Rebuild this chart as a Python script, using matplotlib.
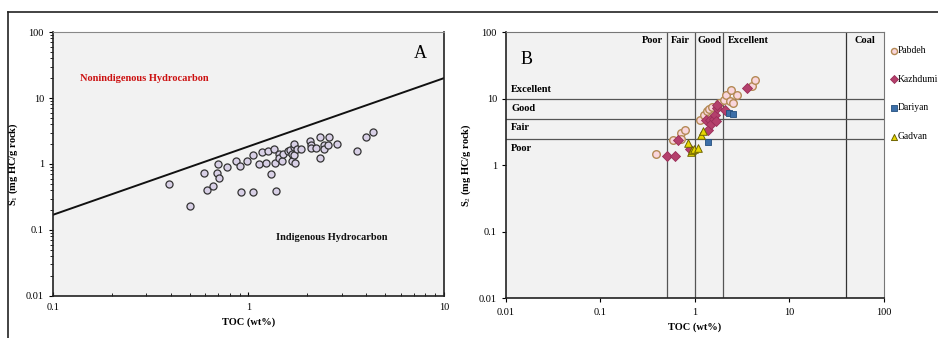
import matplotlib
matplotlib.use("Agg")
import matplotlib.pyplot as plt
from matplotlib.lines import Line2D
from matplotlib.ticker import LogLocator, NullFormatter, FixedLocator, FixedFormatter

plt.rcParams['font.family'] = ['Liberation Serif', 'DejaVu Serif']
plt.rcParams['mathtext.fontset'] = 'custom'
plt.rcParams['mathtext.rm'] = 'Liberation Serif'
plt.rcParams['mathtext.bf'] = 'Liberation Serif:bold'

# panel A: S1 vs TOC
toc_a = [0.39, 0.50, 0.59, 0.61, 0.66, 0.69, 0.70, 0.71, 0.78, 0.86, 0.91, 0.92, 0.98,
         1.05, 1.06, 1.13, 1.17, 1.23, 1.26, 1.31, 1.35, 1.37, 1.38, 1.43, 1.44, 1.49,
         1.50, 1.59, 1.64, 1.66, 1.67, 1.70, 1.71, 1.71, 1.72, 1.77, 1.86, 2.06, 2.08,
         2.08, 2.22, 2.31, 2.33, 2.42, 2.44, 2.55, 2.58, 2.83, 3.59, 3.98, 4.35]
s1_a = [0.50, 0.23, 0.74, 0.41, 0.46, 0.73, 1.00, 0.61, 0.91, 1.10, 0.93, 0.37, 1.11,
        0.37, 1.35, 1.00, 1.52, 1.03, 1.55, 0.71, 1.71, 1.05, 0.39, 1.43, 1.23, 1.11,
        1.42, 1.55, 1.65, 1.10, 1.40, 1.81, 1.98, 1.35, 1.05, 1.69, 1.67, 2.23, 1.96,
        1.75, 1.75, 1.23, 2.59, 1.96, 1.69, 1.92, 2.56, 2.00, 1.55, 2.56, 3.05]
line_toc = [0.1, 10]
line_s1 = [0.17, 20]

# panel B: S2 vs TOC by formation
pab_toc = [0.39, 0.58, 0.71, 0.71, 0.78, 1.13, 1.24, 1.35, 1.41, 1.52, 1.79, 2.02, 2.14,
           2.32, 2.42, 2.54, 2.80, 3.97, 4.30]
pab_s2 = [1.48, 2.40, 3.05, 2.45, 3.35, 4.73, 5.70, 6.46, 7.00, 7.50, 8.60, 9.40, 11.1,
          9.20, 13.5, 8.60, 11.4, 15.3, 19.3]
kaz_toc = [0.50, 0.61, 0.66, 0.885, 1.30, 1.37, 1.45, 1.49, 1.58, 1.63, 1.65, 1.70, 1.70,
           2.06, 3.57]
kaz_s2 = [1.36, 1.38, 2.37, 1.76, 4.73, 3.35, 4.73, 4.20, 4.95, 5.60, 4.60, 7.10, 8.10,
          6.70, 14.5]
dar_toc = [2.29, 2.54, 1.36]
dar_s2 = [6.1, 5.9, 2.21]
gad_toc = [0.84, 0.91, 0.94, 0.98, 1.07, 1.17, 1.23]
gad_s2 = [2.16, 1.57, 1.70, 1.76, 1.80, 2.85, 3.20]

toc_class = [0.5, 1, 2]
coal_toc = 40
s2_class = [2.5, 5, 10]

fig = plt.figure(figsize=(9.38, 3.38), dpi=100)
bg = '#f2f2f2'

# outer frame
fig.add_artist(Line2D([0.0085, 1.0], [0.9645, 0.9645], color='#222222', lw=1.2))
fig.add_artist(Line2D([0.0085, 0.0085], [0.0, 0.9645], color='#222222', lw=1.2))

# ---- A ----
axA = fig.add_axes([0.0565, 0.1243, 0.4168, 0.781])
axA.set_facecolor(bg)
axA.set_xscale('log')
axA.set_yscale('log')
axA.set_xlim(0.1, 10)
axA.set_ylim(0.01, 100)
axA.plot(line_toc, line_s1, color='#111111', lw=1.4)
axA.scatter(toc_a, s1_a, s=26, facecolor='#d8d0e6', edgecolor='#333333', lw=0.9, zorder=3)
axA.text(0.137, 19.9, 'Nonindigenous Hydrocarbon', color='#cc1111', fontsize=7.5,
         fontweight='bold', va='center')
axA.text(1.38, 0.0766, 'Indigenous Hydrocarbon', color='#111111', fontsize=7.5,
         fontweight='bold', va='center')
axA.text(7.54, 48, 'A', fontsize=13, ha='center', va='center')
axA.set_xlabel('TOC (wt%)', fontsize=7.5, fontweight='bold', labelpad=4)
axA.set_ylabel(r'S$_1$ (mg HC/g rock)', fontsize=7.5, fontweight='bold', labelpad=4)
axA.set_xticks([0.1, 1, 10])
axA.set_xticklabels(['0.1', '1', '10'])
axA.set_yticks([0.01, 0.1, 1, 10, 100])
axA.set_yticklabels(['0.01', '0.1', '1', '10', '100'])
axA.xaxis.set_minor_locator(LogLocator(subs=range(2, 10)))
axA.yaxis.set_minor_locator(LogLocator(subs=range(2, 10)))
axA.xaxis.set_minor_formatter(NullFormatter())
axA.yaxis.set_minor_formatter(NullFormatter())
axA.tick_params(axis='x', which='both', direction='in', labelsize=7.5, pad=5)
axA.tick_params(axis='y', which='both', direction='out', labelsize=7.5)
axA.tick_params(which='major', length=3, width=0.8)
axA.tick_params(which='minor', length=2, width=0.6)
for side in ['left', 'bottom', 'right']:
    axA.spines[side].set_color('#222222')
    axA.spines[side].set_linewidth(1.2)
axA.spines['top'].set_color('#888888')

# ---- B ----
axB = fig.add_axes([0.5394, 0.1183, 0.403, 0.787])
axB.set_facecolor(bg)
axB.set_xscale('log')
axB.set_yscale('log')
axB.set_xlim(0.01, 100)
axB.set_ylim(0.01, 100)
for v in toc_class:
    axB.axvline(v, color='#555555', lw=0.9, zorder=1)
axB.axvline(coal_toc, color='#333333', lw=0.9, zorder=1)
for h in s2_class:
    axB.axhline(h, color='#555555', lw=0.9, zorder=1)

axB.scatter(pab_toc, pab_s2, s=30, facecolor='#f9d6dc', edgecolor='#b48a55', lw=1.0,
            marker='o', zorder=3, label='Pabdeh')
axB.scatter(kaz_toc, kaz_s2, s=26, facecolor='#b4406c', edgecolor='#9a2e58', lw=0.6,
            marker='D', zorder=4, label='Kazhdumi')
axB.scatter(dar_toc, dar_s2, s=24, facecolor='#3d6fa8', edgecolor='#24507f', lw=0.6,
            marker='s', zorder=4, label='Dariyan')
axB.scatter(gad_toc, gad_s2, s=30, facecolor='#e8d800', edgecolor='#6e6400', lw=0.7,
            marker='^', zorder=4, label='Gadvan')

lab_y = 75
axB.text(0.46, lab_y, 'Poor', fontsize=7.5, fontweight='bold', ha='right', va='center')
axB.text(0.707, lab_y, 'Fair', fontsize=7.5, fontweight='bold', ha='center', va='center')
axB.text(1.414, lab_y, 'Good', fontsize=7.5, fontweight='bold', ha='center', va='center')
axB.text(2.25, lab_y, 'Excellent', fontsize=7.5, fontweight='bold', ha='left', va='center')
axB.text(63, lab_y, 'Coal', fontsize=7.5, fontweight='bold', ha='center', va='center')
axB.text(0.0114, 13.5, 'Excellent', fontsize=7.5, fontweight='bold', va='center')
axB.text(0.0114, 7.1, 'Good', fontsize=7.5, fontweight='bold', va='center')
axB.text(0.0114, 3.65, 'Fair', fontsize=7.5, fontweight='bold', va='center')
axB.text(0.0114, 1.75, 'Poor', fontsize=7.5, fontweight='bold', va='center')
axB.text(0.0166, 39, 'B', fontsize=13, ha='center', va='center')

axB.set_xlabel('TOC (wt%)', fontsize=7.5, fontweight='bold', labelpad=4)
axB.set_ylabel(r'S$_2$ (mg HC/g rock)', fontsize=7.5, fontweight='bold', labelpad=4)
ticks = [0.01, 0.1, 1, 10, 100]
tick_lbl = ['0.01', '0.1', '1', '10', '100']
axB.xaxis.set_major_locator(FixedLocator(ticks))
axB.xaxis.set_major_formatter(FixedFormatter(tick_lbl))
axB.yaxis.set_major_locator(FixedLocator(ticks))
axB.yaxis.set_major_formatter(FixedFormatter(tick_lbl))
axB.xaxis.set_minor_locator(FixedLocator([]))
axB.yaxis.set_minor_locator(FixedLocator([]))
axB.tick_params(which='major', direction='out', length=3, width=0.8, labelsize=7.5)
axB.tick_params(axis='x', pad=4)
for side in ['left', 'bottom']:
    axB.spines[side].set_color('#222222')
    axB.spines[side].set_linewidth(1.2)
for side in ['top', 'right']:
    axB.spines[side].set_color('#777777')

axB.legend(loc='upper left', bbox_to_anchor=(1.0, 0.965), frameon=False, fontsize=6.9,
           handletextpad=-0.1, labelspacing=2.05, borderaxespad=0.1, handlelength=1.0,
           scatterpoints=1, markerscale=0.8)

fig.savefig('out.png', dpi=100)
